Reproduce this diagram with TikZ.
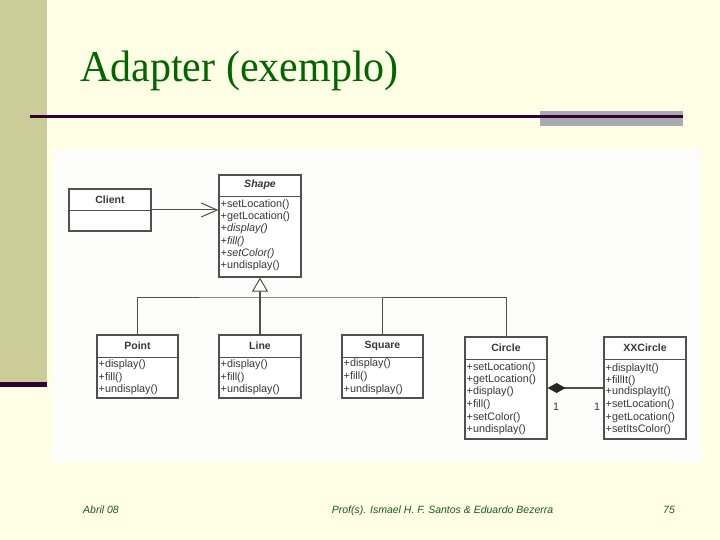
\documentclass[tikz,border=0pt]{standalone}
\usepackage{fontspec}
\setmainfont{Liberation Serif}
\setsansfont{Liberation Sans}
\usetikzlibrary{arrows.meta}
\definecolor{bgyellow}{RGB}{255,255,229}
\definecolor{barkhaki}{RGB}{204,204,153}
\definecolor{darkplum}{RGB}{51,0,51}
\definecolor{greybar}{RGB}{170,170,178}
\definecolor{titlegreen}{RGB}{0,102,0}
\definecolor{footgreen}{RGB}{25,90,25}
\definecolor{scanwhite}{RGB}{252,252,250}
\definecolor{umlline}{RGB}{80,80,80}
\definecolor{umltext}{RGB}{55,55,55}
\tikzset{
  classbox/.style={rectangle, draw=umlline, line width=1.2pt, fill=white, minimum width=82pt, inner sep=0pt},
  cname/.style={font=\sffamily\bfseries\fontsize{10.5}{12}\selectfont, text=umltext, inner sep=0pt},
  op/.style={font=\sffamily\fontsize{10.8}{12}\selectfont, text=umltext, anchor=west, inner sep=0pt},
  conn/.style={draw=umlline, line width=1pt},
  foot/.style={font=\sffamily\itshape\fontsize{10.5}{12}\selectfont, text=footgreen, inner sep=0pt, anchor=base west},
  titletext/.style={font=\fontsize{44}{48}\selectfont, text=titlegreen, inner sep=0pt, anchor=base west}
}
\begin{document}
\begin{tikzpicture}[x=1pt,y=-1pt]
\useasboundingbox (0,0) rectangle (720,540);
\fill[bgyellow] (0,0) rectangle (720,540);
\fill[barkhaki] (0,0) rectangle (47,382);
\fill[darkplum] (0,382) rectangle (47,387);
\fill[greybar] (540,111) rectangle (683,126);
\draw[darkplum, line width=3pt] (30,117) -- (683,117);
\node[titletext] (title) at (80,82) {\scalebox{0.955}[1]{Adapter (exemplo)}};
\fill[scanwhite] (53,149) rectangle (701,462);

% class boxes
\node[classbox, minimum height=42pt] (client) at (110,210) {};
\node[classbox, minimum height=102pt] (shape) at (260,226) {};
\node[classbox, minimum width=81pt, minimum height=63pt] (point) at (137.5,366.5) {};
\node[classbox, minimum height=63pt] (line) at (260,366.5) {};
\node[classbox, minimum width=81pt, minimum height=63pt] (square) at (382.5,366.5) {};
\node[classbox, minimum height=102pt] (circle) at (506,388) {};
\node[classbox, minimum height=102pt] (xxcircle) at (645,388) {};

% compartment dividers
\draw[conn] (client.west |- 0,211) -- (client.east |- 0,211);
\draw[conn] (shape.west |- 0,197) -- (shape.east |- 0,197);
\draw[conn] (point.west |- 0,357) -- (point.east |- 0,357);
\draw[conn] (line.west |- 0,357) -- (line.east |- 0,357);
\draw[conn] (square.west |- 0,357) -- (square.east |- 0,357);
\draw[conn] (circle.west |- 0,359) -- (circle.east |- 0,359);
\draw[conn] (xxcircle.west |- 0,359) -- (xxcircle.east |- 0,359);

% class names
\node[cname] (nclient) at (110,200) {Client};
\node[cname] (nshape) at (260,185) {\itshape Shape};
\node[cname] (npoint) at (137.5,346) {Point};
\node[cname] (nline) at (260,346) {Line};
\node[cname] (nsquare) at (382.5,346) {Square};
\node[cname] (ncircle) at (506,348) {Circle};
\node[cname] (nxx) at (645,348) {XXCircle};

% operations
\node[op] (s1) at (220.5,205) {+setLocation()};
\node[op] (s2) at (220.5,217) {+getLocation()};
\node[op] (s3) at (220.5,229) {\itshape +display()};
\node[op] (s4) at (220.5,242) {\itshape +fill()};
\node[op] (s5) at (220.5,254) {\itshape +setColor()};
\node[op] (s6) at (220.5,266) {+undisplay()};

\node[op] (p1) at (98.5,365) {+display()};
\node[op] (p2) at (98.5,378) {+fill()};
\node[op] (p3) at (98.5,390) {+undisplay()};

\node[op] (l1) at (220.5,365) {+display()};
\node[op] (l2) at (220.5,378) {+fill()};
\node[op] (l3) at (220.5,390) {+undisplay()};

\node[op] (q1) at (343.5,364) {+display()};
\node[op] (q2) at (343.5,377) {+fill()};
\node[op] (q3) at (343.5,390) {+undisplay()};

\node[op] (c1) at (466.5,368) {+setLocation()};
\node[op] (c2) at (466.5,380) {+getLocation()};
\node[op] (c3) at (466.5,392) {+display()};
\node[op] (c4) at (466.5,405) {+fill()};
\node[op] (c5) at (466.5,418) {+setColor()};
\node[op] (c6) at (466.5,430) {+undisplay()};

\node[op] (x1) at (605.5,369) {+displayIt()};
\node[op] (x2) at (605.5,381) {+fillIt()};
\node[op] (x3) at (605.5,392) {+undisplayIt()};
\node[op] (x4) at (605.5,405) {+setLocation()};
\node[op] (x5) at (605.5,418) {+getLocation()};
\node[op] (x6) at (605.5,430) {+setItsColor()};

% connectors
\draw[conn, -{Straight Barb[length=16pt,width=14pt]}] (client.east) -- (client.east -| shape.west);
\coordinate (bus) at (260,297);
\draw[conn] (point.north) |- (bus) -| (circle.north);
\draw[conn] (square.north) -- (square.north |- bus);
\draw[conn, line width=1.6pt, -{Triangle[length=14pt,width=16pt,fill=white,line width=1pt]}] (line.north) -- (shape.south);
\draw[conn, line width=1.8pt, {Diamond[length=18pt,width=10pt,color=black!85]}-] (circle.east) -- (xxcircle.west);
\node[op, anchor=center] (m1) at (556,407) {1};
\node[op, anchor=center] (m2) at (597,407) {1};

% footer
\node[foot] (fdate) at (83,513) {Abril 08};
\node[foot, anchor=base] (fauth) at (442.5,513) {Prof(s). Ismael H. F. Santos \& Eduardo Bezerra};
\node[foot] (fpage) at (663,513) {75};
\end{tikzpicture}
\end{document}
